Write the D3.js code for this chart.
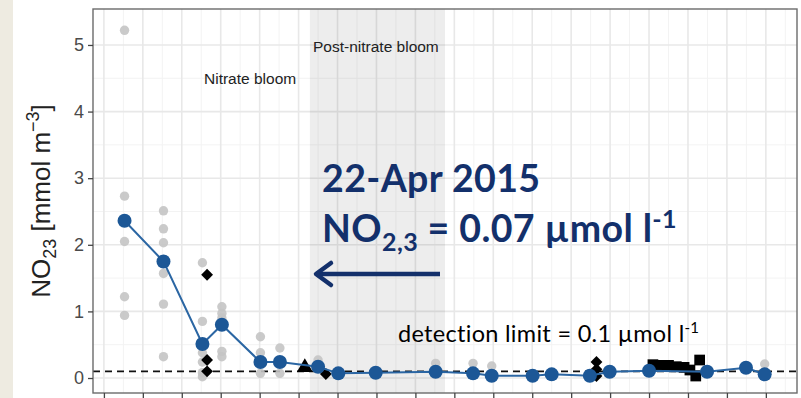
<!DOCTYPE html>
<html>
<head>
<meta charset="utf-8">
<script src="https://cdn.jsdelivr.net/npm/d3@7"></script>
<style>
  html, body { margin: 0; padding: 0; background: #ffffff; }
  svg { display: block; }
</style>
</head>
<body>
<svg id="chart" width="801" height="398"></svg>
<script>
// Sampling occasions (week index) and mean NO23 concentration [mmol m-3]
const meanWeek = [0.53, 1.53, 2.53, 3.03, 4.02, 4.52, 5.5, 6.02, 6.98, 8.52, 9.48, 9.96, 11.01, 11.5, 12.48, 12.99, 14.0, 15.49, 16.49, 16.97];
const meanNO23 = [2.36, 1.75, 0.51, 0.80, 0.24, 0.24, 0.17, 0.07, 0.08, 0.095, 0.07, 0.035, 0.035, 0.055, 0.035, 0.095, 0.11, 0.095, 0.155, 0.055];

// Individual samples
const sampleWeek = [0.53, 0.53, 0.53, 0.53, 0.53,
                    1.53, 1.53, 1.53, 1.53, 1.53, 1.53,
                    2.53, 2.53, 2.53, 2.53, 2.53, 2.53,
                    3.03, 3.03, 3.03, 3.03, 3.03,
                    4.02, 4.02, 4.02,
                    4.52, 4.52,
                    5.5, 5.5,
                    8.52, 9.48, 9.96, 16.97];
const sampleNO23 = [5.22, 2.73, 2.05, 1.22, 0.94,
                    2.51, 2.24, 2.03, 1.57, 1.11, 0.32,
                    1.73, 0.85, 0.38, 0.24, 0.08, 0.02,
                    1.07, 0.97, 0.90, 0.40, 0.32,
                    0.62, 0.38, 0.07,
                    0.45, 0.07,
                    0.27, 0.20,
                    0.22, 0.22, 0.18, 0.21];

// Other stations
const diamondWeek = [2.65, 2.65, 2.65, 5.7, 12.65, 12.65, 12.65];
const diamondNO23 = [1.55, 0.27, 0.10, 0.06, 0.24, 0.13, 0.03];
const triangleWeek = [5.16];
const triangleNO23 = [0.16];
const squareWeek = [14.1, 14.3, 14.5, 14.7, 14.9, 15.05, 15.2, 15.3];
const squareNO23 = [0.20, 0.19, 0.19, 0.17, 0.16, 0.12, 0.03, 0.27];

// Post-nitrate bloom period
const postBloom = [5.29, 8.76];
const detectionLimit = 0.1;

const yTicks = [0, 1, 2, 3, 4, 5];
const yMinor = [0.5, 1.5, 2.5, 3.5, 4.5];
const xTicks = d3.range(0, 18);
const xMinor = d3.range(-0.5, 18, 1);

const svg = d3.select("#chart");
const panel = { left: 93, right: 797, top: 9, bottom: 393 };

const x = d3.scaleLinear().domain([-0.28, 17.8]).range([panel.left, panel.right]);
const y = d3.scaleLinear().domain([-0.225, 5.54]).range([panel.bottom, panel.top]);

// side strip
svg.append("rect").attr("x", 0).attr("y", 0).attr("width", 13).attr("height", 398).attr("fill", "#eeebe1");

const clip = svg.append("defs").append("clipPath").attr("id", "panel-clip");
clip.append("rect").attr("x", panel.left).attr("y", panel.top)
  .attr("width", panel.right - panel.left).attr("height", panel.bottom - panel.top);

const g = svg.append("g").attr("clip-path", "url(#panel-clip)");

// grid
g.selectAll(".ym").data(yMinor).join("line")
  .attr("x1", panel.left).attr("x2", panel.right)
  .attr("y1", d => y(d)).attr("y2", d => y(d))
  .attr("stroke", "#f3f3f3").attr("stroke-width", 1);
g.selectAll(".xm").data(xMinor).join("line")
  .attr("y1", panel.top).attr("y2", panel.bottom)
  .attr("x1", d => x(d)).attr("x2", d => x(d))
  .attr("stroke", "#f3f3f3").attr("stroke-width", 1);
g.selectAll(".yM").data(yTicks).join("line")
  .attr("x1", panel.left).attr("x2", panel.right)
  .attr("y1", d => y(d)).attr("y2", d => y(d))
  .attr("stroke", "#e8e8e8").attr("stroke-width", 1.6);
g.selectAll(".xM").data(xTicks).join("line")
  .attr("y1", panel.top).attr("y2", panel.bottom)
  .attr("x1", d => x(d)).attr("x2", d => x(d))
  .attr("stroke", "#e8e8e8").attr("stroke-width", 1.6);

// shaded period
g.append("rect")
  .attr("x", x(postBloom[0])).attr("width", x(postBloom[1]) - x(postBloom[0]))
  .attr("y", panel.top).attr("height", panel.bottom - panel.top)
  .attr("fill", "#000").attr("fill-opacity", 0.07);

// detection limit
g.append("line")
  .attr("x1", panel.left).attr("x2", panel.right)
  .attr("y1", y(detectionLimit)).attr("y2", y(detectionLimit))
  .attr("stroke", "#111").attr("stroke-width", 1.6).attr("stroke-dasharray", "7,5");

// samples
const samples = sampleWeek.map((w, i) => [w, sampleNO23[i]]);
g.selectAll(".sample").data(samples).join("circle")
  .attr("cx", d => x(d[0])).attr("cy", d => y(d[1])).attr("r", 4.7)
  .attr("fill", "#c4c4c4").attr("fill-opacity", 0.9);

// other station symbols
const diamonds = diamondWeek.map((w, i) => [w, diamondNO23[i]]);
g.selectAll(".diamond").data(diamonds).join("path")
  .attr("d", d3.symbol(d3.symbolSquare, 70))
  .attr("transform", d => `translate(${x(d[0])},${y(d[1])}) rotate(45)`)
  .attr("fill", "#000");
const triangles = triangleWeek.map((w, i) => [w, triangleNO23[i]]);
g.selectAll(".tri").data(triangles).join("path")
  .attr("d", d3.symbol(d3.symbolTriangle, 110))
  .attr("transform", d => `translate(${x(d[0])},${y(d[1])})`)
  .attr("fill", "#000");
const squares = squareWeek.map((w, i) => [w, squareNO23[i]]);
g.selectAll(".sq").data(squares).join("path")
  .attr("d", d3.symbol(d3.symbolSquare, 115))
  .attr("transform", d => `translate(${x(d[0])},${y(d[1])})`)
  .attr("fill", "#000");

// mean line and points
const means = meanWeek.map((w, i) => [w, meanNO23[i]]);
g.append("path").datum(means)
  .attr("d", d3.line().x(d => x(d[0])).y(d => y(d[1])))
  .attr("fill", "none").attr("stroke", "#2b66a3").attr("stroke-width", 2);
g.selectAll(".mean").data(means).join("circle")
  .attr("cx", d => x(d[0])).attr("cy", d => y(d[1])).attr("r", 7)
  .attr("fill", "#1c5796");

// period labels
const labelFont = "'Liberation Sans', Arial, sans-serif";
svg.append("text").attr("x", 204).attr("y", 84).text("Nitrate bloom")
  .attr("font-family", labelFont).attr("font-size", 15.5).attr("fill", "#222");
svg.append("text").attr("x", 313).attr("y", 52).text("Post-nitrate bloom")
  .attr("font-family", labelFont).attr("font-size", 15.5).attr("fill", "#222");

// panel border
svg.append("rect").attr("x", panel.left).attr("y", panel.top)
  .attr("width", panel.right - panel.left).attr("height", panel.bottom - panel.top)
  .attr("fill", "none").attr("stroke", "#6b6b6b").attr("stroke-width", 1.4);

// axes
const yAxis = svg.append("g").attr("transform", `translate(${panel.left},0)`)
  .call(d3.axisLeft(y).tickValues(yTicks).tickSize(5).tickPadding(4).tickFormat(d3.format("d")));
yAxis.select(".domain").remove();
yAxis.selectAll("line").attr("stroke", "#444").attr("stroke-width", 1.3);
yAxis.selectAll("text").attr("font-family", labelFont).attr("font-size", 18).attr("fill", "#4a4a4a");

const xAxis = svg.append("g").attr("transform", `translate(0,${panel.bottom})`)
  .call(d3.axisBottom(x).tickValues(xTicks).tickSize(5).tickFormat(""));
xAxis.select(".domain").remove();
xAxis.selectAll("line").attr("stroke", "#444").attr("stroke-width", 1.3);

// y axis title
const yTitle = svg.append("text")
  .attr("transform", "translate(50,201) rotate(-90)")
  .attr("text-anchor", "middle")
  .attr("font-family", labelFont).attr("font-size", 26).attr("fill", "#222");
yTitle.append("tspan").text("NO");
yTitle.append("tspan").text("23").attr("font-size", 18).attr("dy", 6);
yTitle.append("tspan").text(" [mmol m").attr("dy", -6);
yTitle.append("tspan").text("\u22123").attr("font-size", 18).attr("dy", -11);
yTitle.append("tspan").text("]").attr("dy", 11);

// annotation
const navy = "#13306b";
const noteFont = "Lato, 'Open Sans', sans-serif";
svg.append("text").attr("x", 322).attr("y", 192)
  .attr("font-family", noteFont).attr("font-weight", 700).attr("font-size", 37.5)
  .attr("letter-spacing", 0.4)
  .attr("fill", navy).text("22-Apr 2015");
const note2 = svg.append("text").attr("x", 322).attr("y", 242)
  .attr("font-family", noteFont).attr("font-weight", 700).attr("font-size", 37.5)
  .attr("letter-spacing", 0.4)
  .attr("fill", navy);
note2.append("tspan").text("NO");
note2.append("tspan").text("2,3").attr("font-size", 25).attr("dy", 9);
note2.append("tspan").text(" = 0.07 \u00b5mol l").attr("dy", -9);
note2.append("tspan").text("-1").attr("font-size", 25).attr("dy", -14);

// arrow
svg.append("line").attr("x1", 440).attr("x2", 318).attr("y1", 274).attr("y2", 274)
  .attr("stroke", navy).attr("stroke-width", 4.5);
svg.append("path").attr("d", "M331,263 L316,274 L331,285")
  .attr("fill", "none").attr("stroke", navy).attr("stroke-width", 4.5)
  .attr("stroke-linecap", "round").attr("stroke-linejoin", "round");

// detection limit label
const dl = svg.append("text").attr("x", 398).attr("y", 342)
  .attr("font-family", noteFont).attr("font-size", 23.5).attr("letter-spacing", 0.3).attr("fill", "#000");
dl.append("tspan").text("detection limit = 0.1 \u00b5mol l");
dl.append("tspan").text("-1").attr("font-size", 15).attr("dy", -9);
</script>
</body>
</html>
